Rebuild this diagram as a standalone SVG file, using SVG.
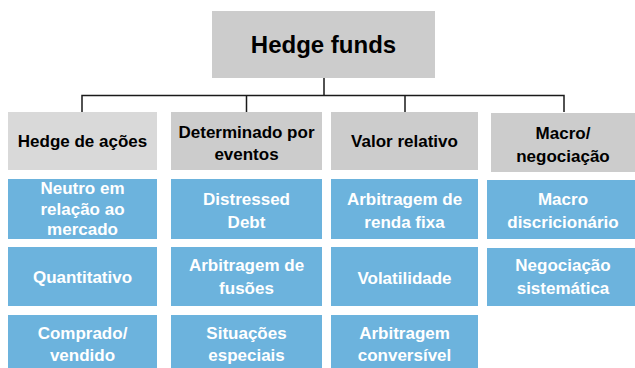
<svg xmlns="http://www.w3.org/2000/svg" width="635" height="368" viewBox="0 0 635 368">
<style>
  text { font-family: "Liberation Sans", Arial, sans-serif; font-weight: bold; text-anchor: middle; }
  .g1 { fill: #d9d9d9; }
  .g2 { fill: #cccccc; }
  .bl { fill: #6cb3dd; }
  .tk { fill: #000000; font-size: 17px; }
  .tw { fill: #ffffff; font-size: 17px; }
  .conn { stroke: #1a1a1a; stroke-width: 1.5; fill: none; }
</style>
<rect width="635" height="368" fill="#ffffff"/>
<g id="connectors">
  <path class="conn" d="M324 78 V95.5 M82 112 V95.5 H564 V112 M246.5 95.5 V112 M405 95.5 V112"/>
</g>
<g id="root">
  <rect class="g2" x="212" y="11" width="223" height="67"/>
  <text x="323.5" y="52.5" style="font-size:24px">Hedge funds</text>
</g>
<g id="cat-acoes">
  <rect class="g1" x="8" y="112" width="149" height="58"/>
  <text class="tk" x="82.5" y="146.5">Hedge de ações</text>
</g>
<g id="cat-eventos">
  <rect class="g2" x="171" y="112" width="151" height="58"/>
  <text class="tk" x="246.5" y="137.5">Determinado por</text>
  <text class="tk" x="246.5" y="160">eventos</text>
</g>
<g id="cat-valor">
  <rect class="g2" x="331" y="112" width="147" height="58"/>
  <text class="tk" x="404.5" y="146.5">Valor relativo</text>
</g>
<g id="cat-macro">
  <rect class="g2" x="491" y="113" width="146" height="59"/>
  <text class="tk" x="563" y="138.5">Macro/</text>
  <text class="tk" x="563" y="162">negociação</text>
</g>
<g id="neutro">
  <rect class="bl" x="8" y="179" width="149" height="60"/>
  <text class="tw" x="82.5" y="194">Neutro em</text>
  <text class="tw" x="82.5" y="214.5">relação ao</text>
  <text class="tw" x="82.5" y="235">mercado</text>
</g>
<g id="quantitativo">
  <rect class="bl" x="8" y="247" width="149" height="59"/>
  <text class="tw" x="82.5" y="282.5">Quantitativo</text>
</g>
<g id="comprado">
  <rect class="bl" x="8" y="315" width="149" height="60"/>
  <text class="tw" x="82.5" y="338.5">Comprado/</text>
  <text class="tw" x="82.5" y="361">vendido</text>
</g>
<g id="distressed">
  <rect class="bl" x="171" y="179" width="151" height="60"/>
  <text class="tw" x="246.5" y="204.5">Distressed</text>
  <text class="tw" x="246.5" y="227.5">Debt</text>
</g>
<g id="fusoes">
  <rect class="bl" x="171" y="247" width="151" height="59"/>
  <text class="tw" x="246.5" y="271">Arbitragem de</text>
  <text class="tw" x="246.5" y="294">fusões</text>
</g>
<g id="situacoes">
  <rect class="bl" x="171" y="315" width="151" height="60"/>
  <text class="tw" x="246.5" y="338.5">Situações</text>
  <text class="tw" x="246.5" y="361">especiais</text>
</g>
<g id="renda-fixa">
  <rect class="bl" x="331" y="179" width="147" height="60"/>
  <text class="tw" x="404.5" y="204.5">Arbitragem de</text>
  <text class="tw" x="404.5" y="227.5">renda fixa</text>
</g>
<g id="volatilidade">
  <rect class="bl" x="331" y="247" width="147" height="59"/>
  <text class="tw" x="404.5" y="284">Volatilidade</text>
</g>
<g id="conversivel">
  <rect class="bl" x="331" y="315" width="147" height="60"/>
  <text class="tw" x="404.5" y="338.5">Arbitragem</text>
  <text class="tw" x="404.5" y="361">conversível</text>
</g>
<g id="discricionario">
  <rect class="bl" x="487" y="180" width="153" height="59"/>
  <text class="tw" x="563" y="205">Macro</text>
  <text class="tw" x="563" y="227.5">discricionário</text>
</g>
<g id="sistematica">
  <rect class="bl" x="487" y="248" width="153" height="58"/>
  <text class="tw" x="563" y="271">Negociação</text>
  <text class="tw" x="563" y="294">sistemática</text>
</g>
</svg>
